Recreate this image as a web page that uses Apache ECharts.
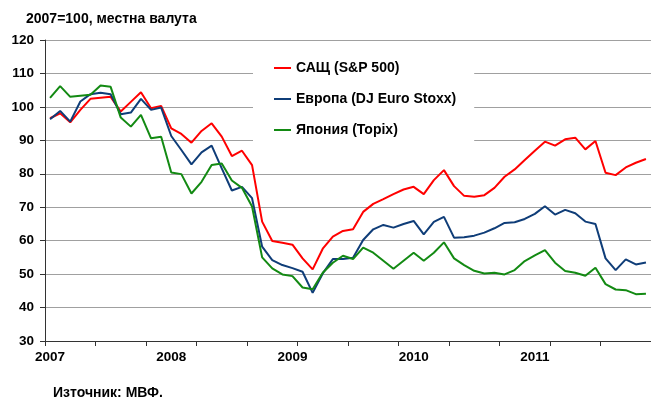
<!DOCTYPE html>
<html>
<head>
<meta charset="utf-8">
<script src="https://cdn.jsdelivr.net/npm/echarts@6/dist/echarts.min.js"></script>
<style>
html,body{margin:0;padding:0;background:#fff;}
#chart{width:651px;height:400px;}
</style>
</head>
<body>
<div id="chart"></div>
<script>
const years = ['2007', '2008', '2009', '2010', '2011'];
const seriesNames = ['САЩ (S&P 500)', 'Европа (DJ Euro Stoxx)', 'Япония (Topix)'];
const usa = [96.6, 98.1, 95.4, 99.1, 102.4, 102.7, 103.0, 98.6, 101.5, 104.4, 99.6, 100.3,
  93.6, 91.9, 89.3, 92.8, 95.1, 91.1, 85.3, 86.9, 82.6, 65.7, 59.9, 59.4,
  58.8, 54.7, 51.4, 57.6, 61.2, 62.9, 63.4, 68.6, 71.0, 72.4, 73.9, 75.3,
  76.1, 73.9, 78.1, 81.1, 76.3, 73.4, 73.1, 73.6, 75.8, 79.1, 81.3, 84.1,
  86.9, 89.6, 88.4, 90.3, 90.8, 87.3, 89.8, 80.3, 79.6, 81.9, 83.3, 84.4];
const europe = [96.3, 98.8, 95.6, 101.6, 103.8, 104.2, 103.8, 97.8, 98.3, 102.4, 99.1, 99.8,
  91.3, 87.1, 82.8, 86.4, 88.4, 81.6, 75.0, 76.1, 72.7, 58.2, 54.2, 52.7,
  51.8, 50.7, 44.4, 50.2, 54.5, 54.5, 54.9, 60.2, 63.4, 64.7, 63.9, 65.0,
  65.9, 61.9, 65.6, 67.1, 60.9, 61.0, 61.5, 62.4, 63.7, 65.3, 65.5, 66.5,
  68.0, 70.3, 67.8, 69.2, 68.2, 65.7, 65.0, 54.7, 51.2, 54.4, 52.9, 53.5];
const japan = [102.7, 106.2, 103.0, 103.3, 103.6, 106.4, 106.0, 96.8, 94.1, 97.6, 90.6, 91.1,
  80.4, 79.9, 74.1, 77.6, 82.6, 83.1, 78.0, 75.8, 70.2, 55.0, 51.7, 49.9,
  49.4, 46.0, 45.5, 50.4, 53.4, 55.5, 54.5, 57.9, 56.4, 54.0, 51.6, 54.0,
  56.4, 54.0, 56.4, 59.5, 54.7, 52.7, 51.0, 50.2, 50.4, 49.9, 51.2, 53.9,
  55.6, 57.2, 53.4, 50.9, 50.4, 49.5, 51.9, 47.0, 45.4, 45.2, 44.0, 44.1];
const colors = ['#ff0000', '#0f3d78', '#138a13'];

const months = [];
years.forEach(y => { for (let m = 1; m <= 12; m++) months.push(y + '-' + (m < 10 ? '0' + m : m)); });

const font = "'Liberation Sans', Arial, sans-serif";
const chart = echarts.init(document.getElementById('chart'));
chart.setOption({
  animation: false,
  backgroundColor: '#fff',
  textStyle: { fontFamily: font },
  title: [
    { text: '2007=100, местна валута', left: 21, top: 7,
      textStyle: { fontSize: 14, fontWeight: 'bold', color: '#000', fontFamily: font } },
    { text: 'Източник: МВФ.', left: 48, top: 381,
      textStyle: { fontSize: 14, fontWeight: 'bold', color: '#000', fontFamily: font } }
  ],
  legend: {
    orient: 'vertical', left: 253, top: 51,
    padding: [10, 18, 15, 20],
    backgroundColor: '#fff',
    itemWidth: 17, itemHeight: 14, itemGap: 17,
    itemStyle: { opacity: 0 },
    lineStyle: { width: 2 },
    textStyle: { fontSize: 14, fontWeight: 'bold', color: '#000', fontFamily: font },
    data: seriesNames
  },
  grid: { left: 45, top: 40, right: 0, bottom: 59, containLabel: false },
  xAxis: {
    type: 'category', data: months, boundaryGap: true,
    axisLine: { lineStyle: { color: '#333', width: 1 } },
    axisTick: { show: true, length: 5, interval: i => i % 5 === 0, lineStyle: { color: '#333' } },
    axisLabel: {
      interval: i => i % 12 === 0,
      formatter: v => v.slice(0, 4),
      fontSize: 13.5, fontWeight: 'bold', color: '#000', margin: 9, fontFamily: font
    },
    splitLine: { show: false }
  },
  yAxis: {
    type: 'value', min: 30, max: 120, interval: 10,
    axisLine: { show: true, lineStyle: { color: '#333', width: 1 } },
    axisTick: { show: true, length: 5, lineStyle: { color: '#333' } },
    axisLabel: { fontSize: 13.5, fontWeight: 'bold', color: '#000', margin: 11, fontFamily: font },
    splitLine: { show: true, lineStyle: { color: '#a0a0a0', width: 1 } }
  },
  series: [usa, europe, japan].map((d, k) => ({
    name: seriesNames[k], type: 'line', data: d, symbol: 'none', smooth: false,
    lineStyle: { color: colors[k], width: 2 }, itemStyle: { color: colors[k] }
  }))
});
</script>
</body>
</html>
